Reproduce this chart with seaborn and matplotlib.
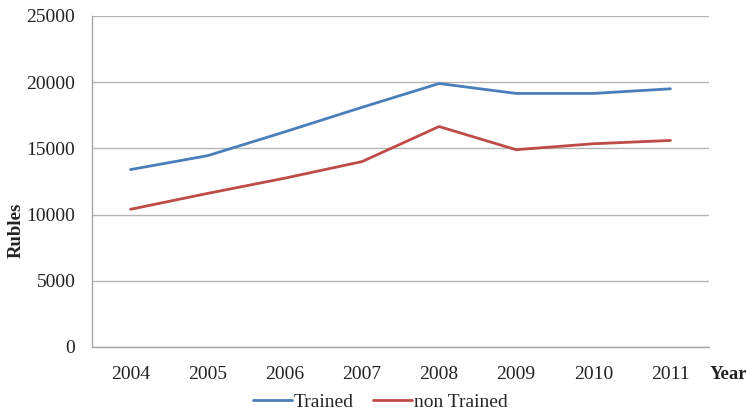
import matplotlib
matplotlib.use("Agg")
import matplotlib.pyplot as plt
from matplotlib.lines import Line2D
import seaborn as sns
import pandas as pd

years = [2004, 2005, 2006, 2007, 2008, 2009, 2010, 2011]
trained = [13400, 14450, 16250, 18100, 19900, 19150, 19150, 19500]
non_trained = [10400, 11600, 12750, 14000, 16650, 14900, 15350, 15600]
series_names = ["Trained", "non Trained"]
colors = ["#4a7ebb", "#be4b48"]
y_ticks = [0, 5000, 10000, 15000, 20000, 25000]

df = pd.DataFrame({
    "Year": years * 2,
    "Rubles": trained + non_trained,
    "Group": [series_names[0]] * len(years) + [series_names[1]] * len(years),
})

sns.set_style("white")
plt.rcParams["font.family"] = ["Liberation Serif", "DejaVu Serif"]

fig = plt.figure(figsize=(7.46, 4.12), dpi=100)
ax = fig.add_axes([0.1233, 0.1578, 0.8271, 0.8034])

sns.lineplot(data=df, x="Year", y="Rubles", hue="Group",
             palette=dict(zip(series_names, colors)), linewidth=2.0,
             legend=False, ax=ax)

ax.set_xlim(years[0] - 0.5, years[-1] + 0.5)
ax.set_ylim(0, 25000)
ax.set_yticks(y_ticks)
ax.set_xticks(years)
ax.set_xticklabels([str(y) for y in years])
ax.yaxis.grid(True, color="#b5b5b5", linewidth=1.0)
ax.set_axisbelow(True)
ax.tick_params(axis="both", length=0, labelsize=14, colors="#222222")
ax.tick_params(axis="y", pad=12)
ax.tick_params(axis="x", pad=14)

for side in ["top", "right"]:
    ax.spines[side].set_visible(False)
for side in ["left", "bottom"]:
    ax.spines[side].set_color("#a6a6a6")
    ax.spines[side].set_linewidth(1.0)

ax.set_xlabel("")
ax.set_ylabel("")
fig.text(0.022, 0.442, "Rubles", rotation=90, fontsize=13.5, fontweight="bold",
         ha="center", va="center", color="#222222")
fig.text(0.976, 0.092, "Year", fontsize=13.5, fontweight="bold",
         ha="center", va="center", color="#222222")

handles = [Line2D([0], [0], color=c, linewidth=2.0) for c in colors]
fig.legend(handles, series_names, loc="center", bbox_to_anchor=(0.51, 0.024),
           ncol=2, frameon=False, fontsize=14, handlelength=2.0,
           handletextpad=0.1, columnspacing=1.0, borderpad=0)

fig.savefig("out.png", dpi=100)
